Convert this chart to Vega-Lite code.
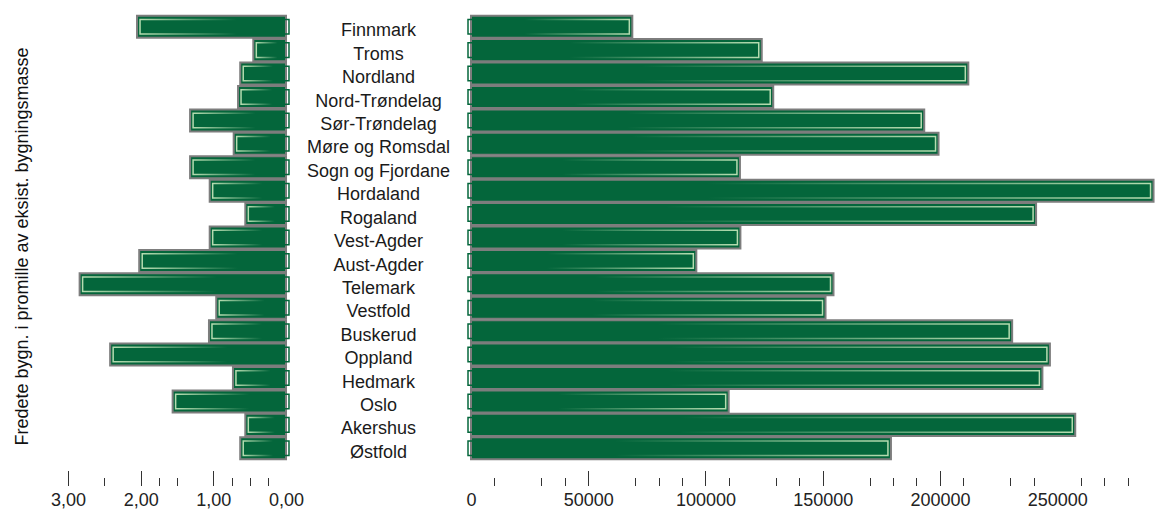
{
  "$schema": "https://vega.github.io/schema/vega-lite/v6.json",
  "padding": {"left": 12, "top": 14, "right": 0, "bottom": 0},
  "background": "white",
  "spacing": 0,
  "bounds": "flush",
  "config": {"view": {"stroke": null}, "font": "Liberation Sans"},
  "data": {"values": [
    {"fylke": "Finnmark", "promille": 2.05, "bygninger": 68800},
    {"fylke": "Troms", "promille": 0.45, "bygninger": 124000},
    {"fylke": "Nordland", "promille": 0.63, "bygninger": 212100},
    {"fylke": "Nord-Trøndelag", "promille": 0.66, "bygninger": 128900},
    {"fylke": "Sør-Trøndelag", "promille": 1.32, "bygninger": 193300},
    {"fylke": "Møre og Romsdal", "promille": 0.72, "bygninger": 199400},
    {"fylke": "Sogn og Fjordane", "promille": 1.32, "bygninger": 114700},
    {"fylke": "Hordaland", "promille": 1.05, "bygninger": 291100},
    {"fylke": "Rogaland", "promille": 0.56, "bygninger": 241000},
    {"fylke": "Vest-Agder", "promille": 1.05, "bygninger": 114900},
    {"fylke": "Aust-Agder", "promille": 2.02, "bygninger": 96100},
    {"fylke": "Telemark", "promille": 2.84, "bygninger": 154600},
    {"fylke": "Vestfold", "promille": 0.96, "bygninger": 151200},
    {"fylke": "Buskerud", "promille": 1.06, "bygninger": 230800},
    {"fylke": "Oppland", "promille": 2.42, "bygninger": 246900},
    {"fylke": "Hedmark", "promille": 0.73, "bygninger": 243700},
    {"fylke": "Oslo", "promille": 1.56, "bygninger": 109900},
    {"fylke": "Akershus", "promille": 0.56, "bygninger": 257700},
    {"fylke": "Østfold", "promille": 0.63, "bygninger": 179100}
  ]},
  "hconcat": [
    {
      "width": 218,
      "height": 445,
      "encoding": {
        "y": {
          "field": "fylke", "type": "nominal", "sort": null,
          "scale": {"paddingInner": 0.06, "paddingOuter": 0.03},
          "axis": {
            "title": "Fredete bygn. i promille av eksist. bygningsmasse",
            "labels": false, "ticks": false, "domain": false,
            "titleFont": "Liberation Sans", "titleFontSize": 18, "titleFontWeight": "normal",
            "titleColor": "#111111", "titleX": -46, "titleY": 231,
            "titleBaseline": "middle", "titleAngle": -90, "titleAlign": "center"
          }
        },
        "x": {
          "field": "promille", "type": "quantitative",
          "scale": {"domain": [0, 3], "reverse": true, "nice": false},
          "axis": {
            "title": null, "domain": false, "grid": false, "offset": 25.5,
            "values": [0, 0.25, 0.5, 0.75, 1, 1.5, 1.75, 2, 2.5, 3],
            "labelExpr": "datum.value % 1 === 0 ? replace(format(datum.value, '.2f'), '.', ',') : ''",
            "tickSize": {"condition": {"test": "datum.value % 1 === 0", "value": -15}, "value": -8},
            "tickOpacity": {"condition": {"test": "datum.value === 0", "value": 0}, "value": 1},
            "tickColor": "#333333", "tickWidth": 1,
            "labelFont": "Liberation Sans", "labelFontSize": 18, "labelColor": "#222222",
            "labelFlush": false, "labelOverlap": false, "labelBound": false, "labelPadding": 21
          }
        }
      },
      "layer": [
        {"mark": {"type": "bar", "fill": "#04663b", "stroke": "#7d7d7d", "strokeWidth": 2}},
        {"mark": {"type": "bar", "filled": false, "strokeWidth": 1.5, "height": {"band": 0.66}, "xOffset": 3,
          "stroke": {"gradient": "linear", "x1": 0, "y1": 0, "x2": 1, "y2": 0,
            "stops": [{"offset": 0, "color": "#b5dcb0"}, {"offset": 0.65, "color": "#04663b"}, {"offset": 1, "color": "#04663b"}]}}}
      ]
    },
    {
      "width": 185,
      "height": 445,
      "mark": {"type": "text", "font": "Liberation Sans", "fontSize": 18, "baseline": "alphabetic", "dy": 9.6, "color": "#1a1a1a"},
      "encoding": {
        "y": {"field": "fylke", "type": "nominal", "sort": null, "scale": {"paddingInner": 0.06, "paddingOuter": 0.03}, "axis": null},
        "text": {"field": "fylke", "type": "nominal"}
      }
    },
    {
      "width": 687,
      "height": 445,
      "encoding": {
        "y": {"field": "fylke", "type": "nominal", "sort": null, "scale": {"paddingInner": 0.06, "paddingOuter": 0.03}, "axis": null},
        "x": {
          "field": "bygninger", "type": "quantitative",
          "scale": {"domain": [0, 293000], "nice": false},
          "axis": {
            "title": null, "domain": false, "grid": false, "offset": 25.5,
            "values": [0, 10000, 30000, 40000, 50000, 70000, 80000, 90000, 100000, 110000, 130000, 140000, 150000, 170000, 180000, 190000, 200000, 210000, 230000, 240000, 250000, 260000, 270000, 280000],
            "labelExpr": "datum.value % 50000 === 0 ? format(datum.value, 'd') : ''",
            "tickSize": {"condition": {"test": "datum.value % 50000 === 0", "value": -15}, "value": -8},
            "tickOpacity": {"condition": {"test": "datum.value === 0 || datum.value === 250000", "value": 0}, "value": 1},
            "tickColor": "#333333", "tickWidth": 1,
            "labelFont": "Liberation Sans", "labelFontSize": 18, "labelColor": "#222222",
            "labelFlush": false, "labelOverlap": false, "labelBound": false, "labelPadding": 21
          }
        }
      },
      "layer": [
        {"mark": {"type": "bar", "fill": "#04663b", "stroke": "#7d7d7d", "strokeWidth": 2}},
        {"mark": {"type": "bar", "filled": false, "strokeWidth": 1.5, "height": {"band": 0.66}, "xOffset": -3,
          "stroke": {"gradient": "linear", "x1": 0, "y1": 0, "x2": 1, "y2": 0,
            "stops": [{"offset": 0, "color": "#04663b"}, {"offset": 0.35, "color": "#04663b"}, {"offset": 1, "color": "#b5dcb0"}]}}}
      ]
    }
  ]
}
